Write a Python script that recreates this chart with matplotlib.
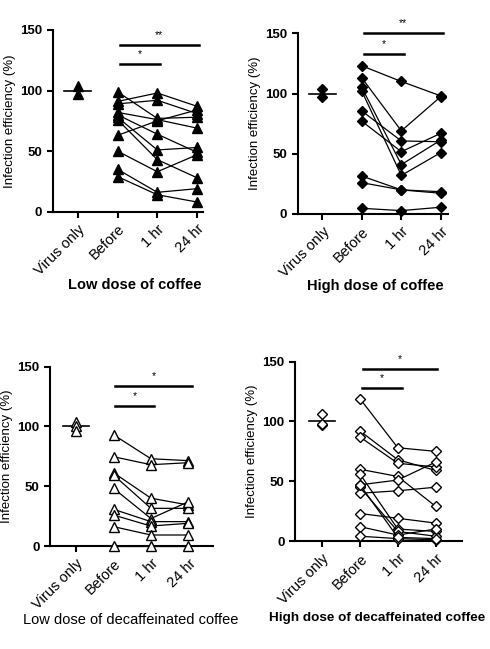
import matplotlib.pyplot as plt
import numpy as np

plt.rcParams['font.family'] = ['Liberation Sans', 'DejaVu Sans']

groups = ['Virus only', 'Before', '1 hr', '24 hr']

# low dose of coffee
low_virus = [103.5, 97.5]
low_before = [99, 91, 89, 82, 80, 78, 76, 63, 50, 35, 29]
low_1hr = [77, 98, 92, 76, 64, 51, 43, 75, 33, 16, 14]
low_24hr = [78, 87, 81, 69, 49, 53, 28, 84, 47, 19, 8]

# high dose of coffee
high_virus = [104, 97]
high_before = [123, 113, 105, 102, 85.5, 77, 31.5, 26, 4.7]
high_1hr = [110, 69, 41, 32, 60.6, 51.7, 20, 20, 2.8]
high_24hr = [98, 97.5, 61.4, 51, 60, 67, 18.5, 17.2, 5.6]

# low dose of decaffeinated coffee
ldecaf_virus = [104, 100, 96]
ldecaf_before = [93, 74.7, 61.3, 59.4, 48.2, 30.7, 25.9, 16.2, 0]
ldecaf_1hr = [73, 68, 40, 31.5, 23, 20.4, 16.7, 9.2, 0]
ldecaf_24hr = [71.4, 69.7, 34.3, 31.5, 37, 20.4, 19, 9.2, 0]

# high dose of decaffeinated coffee
hdecaf_virus = [106, 97, 98]
hdecaf_before = [119, 92, 87, 60, 56, 47, 45, 40, 23, 12, 4, 47]
hdecaf_1hr = [78, 68, 65, 54, 10, 51, 8, 42, 19, 5, 2, 3]
hdecaf_24hr = [75, 59, 62, 29, 8, 66, 4, 45, 15, 10, 1, 2]

# significance bars: (x0, x1, y, label)
low_sig = [(1.05, 2.07, 122, '*'), (1.05, 3.05, 138, '**')]
high_sig = [(1.05, 2.07, 133, '*'), (1.05, 3.05, 150.5, '**')]
ldecaf_sig = [(1.05, 2.07, 117, '*'), (1.05, 3.1, 134, '*')]
hdecaf_sig = [(1.05, 2.1, 128, '*'), (1.08, 3.05, 144, '*')]


def panel(ax, virus, before, h1, h24, sig, marker, ms, filled, title,
          xlim, title_xy, title_bold, title_size=10.5):
    fc = 'black' if filled else 'white'
    for a, b, c in zip(before, h1, h24):
        ax.plot([1, 2, 3], [a, b, c], color='black', lw=0.9,
                marker=marker, ms=ms, mfc=fc, mec='black', mew=1.0,
                clip_on=False, zorder=3)
    ax.plot(np.zeros(len(virus)), virus, ls='none', marker=marker, ms=ms,
            mfc=fc, mec='black', mew=1.0, clip_on=False, zorder=3)
    ax.plot([-0.34, 0.34], [100, 100], color='black', lw=1.2, zorder=2)
    for x0, x1, y, lab in sig:
        ax.plot([x0, x1], [y, y], color='black', lw=1.8, clip_on=False)
        ax.text((x0 + x1) / 2, y + 4, lab, ha='center', va='bottom',
                fontsize=7.5, clip_on=False)
    ax.set_ylim(0, 150)
    ax.set_xlim(*xlim)
    ax.set_yticks([0, 50, 100, 150])
    ax.set_yticklabels(['0', '50', '100', '150'], fontweight='bold',
                       fontsize=9.5)
    ax.set_xticks(range(4))
    ax.set_xticklabels(groups, rotation=45, ha='right',
                       rotation_mode='anchor', fontsize=10.5)
    ax.set_ylabel('Infection efficiency (%)', fontsize=9.5, labelpad=3)
    for s in ['top', 'right']:
        ax.spines[s].set_visible(False)
    for s in ['left', 'bottom']:
        ax.spines[s].set_linewidth(1.5)
    ax.tick_params(width=1.5, length=4)
    fig.text(title_xy[0], title_xy[1], title, ha='center', va='center',
             fontsize=title_size,
             fontweight='bold' if title_bold else 'normal')


fig = plt.figure(figsize=(4.9, 6.49), dpi=100)

ax1 = fig.add_axes([0.1076, 0.6738, 0.3067, 0.28])
ax2 = fig.add_axes([0.6076, 0.6703, 0.3067, 0.2784])
ax3 = fig.add_axes([0.1020, 0.1587, 0.3327, 0.2763])
ax4 = fig.add_axes([0.6020, 0.1664, 0.3402, 0.2763])

panel(ax1, low_virus, low_before, low_1hr, low_24hr, low_sig, '^', 7,
      True, 'Low dose of coffee', (-0.63, 3.15),
      (135 / 490, 1 - 285 / 649), True)
panel(ax2, high_virus, high_before, high_1hr, high_24hr, high_sig, 'D', 4.8,
      True, 'High dose of coffee', (-0.62, 3.18),
      (375 / 490, 1 - 286 / 649), True)
panel(ax3, ldecaf_virus, ldecaf_before, ldecaf_1hr, ldecaf_24hr, ldecaf_sig,
      '^', 7, False, 'Low dose of decaffeinated coffee', (-0.7, 3.66),
      (131 / 490, 1 - 620 / 649), False)
panel(ax4, hdecaf_virus, hdecaf_before, hdecaf_1hr, hdecaf_24hr, hdecaf_sig,
      'D', 5, False, 'High dose of decaffeinated coffee', (-0.72, 3.69),
      (377 / 490, 1 - 618 / 649), True, title_size=9.7)

fig.savefig('out.png', dpi=100, facecolor='white')
